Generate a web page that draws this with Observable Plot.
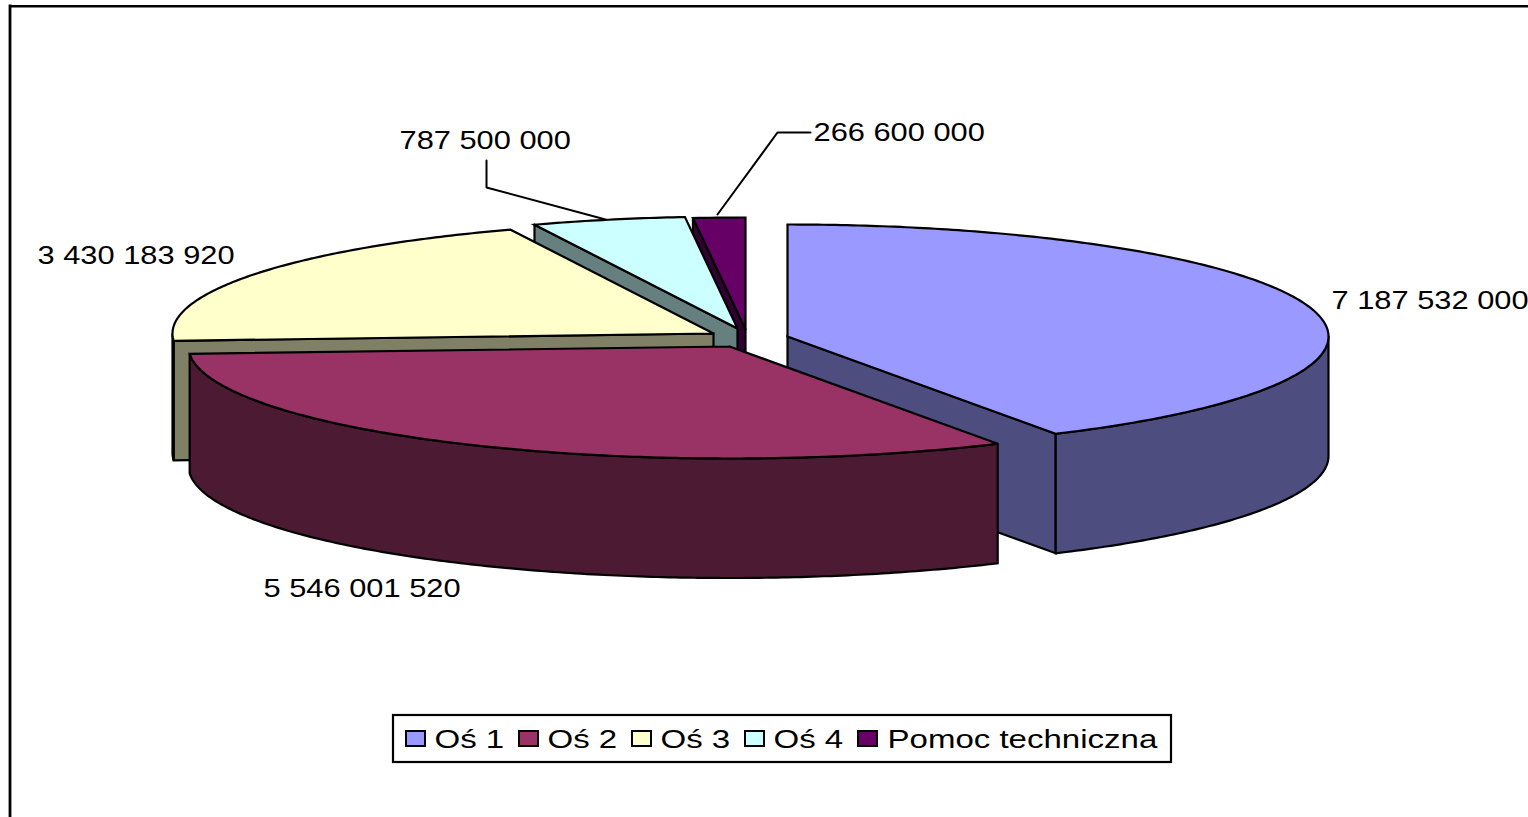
<!DOCTYPE html>
<html lang="pl">
<head>
<meta charset="utf-8">
<title>Oś 1–4 i Pomoc techniczna</title>
<script src="https://cdn.jsdelivr.net/npm/d3@7"></script>
<script src="https://cdn.jsdelivr.net/npm/@observablehq/plot@0.6"></script>
<style>
html,body{margin:0;padding:0;background:#fff;overflow:hidden}
svg{display:block}
</style>
</head>
<body>
<div id="chart"></div>
<script>
// --- data ---
const categories = ["Oś 1", "Oś 2", "Oś 3", "Oś 4", "Pomoc techniczna"];
const values = [7187532000, 5546001520, 3430183920, 787500000, 266600000];
const topColors = ["#9999FF", "#993366", "#FFFFCC", "#CCFFFF", "#660066"];
const sideColors = ["#4D4D80", "#4D1A33", "#808066", "#668080", "#330033"];

// --- layout of the exploded pie ---
const W = 1528, H = 817;
const radiusX = 541, radiusY = 112, depth = 119.5;
const apexX = [787, 729, 713, 737, 745];
const apexY = [336, 346, 333, 328, 329];
const paintOrder = [0, 4, 3, 2, 1];
const labelX = [1331, 263, 37, 399, 813];
const labelBaseline = [308, 596, 263, 148, 140];
const leaderRows = [
  {id: "l3", px: 486, py: 160}, {id: "l3", px: 486, py: 187}, {id: "l3", px: 605, py: 219},
  {id: "l4", px: 717, py: 214}, {id: "l4", px: 777, py: 132}, {id: "l4", px: 810, py: 132}
];
const legendSwatchX = [406, 519, 632, 745, 858];
const legendTextX = [434, 547, 660, 773, 887];
const fontFamily = "Liberation Sans, Arial, sans-serif";
const fontSize = 26, labelStretch = 1.185, legendStretch = 1.27;

// --- pie geometry derived from the values ---
const total = d3.sum(values);
const cum = d3.cumsum(values);
const rad = (i) => (i < 0 ? 0 : (cum[i] / total) * 2 * Math.PI);
const rimPoint = (i, a, dz = 0) => ({
  px: apexX[i] + radiusX * Math.sin(a),
  py: apexY[i] - radiusY * Math.cos(a) + dz
});
const arc = (i, a0, a1, dz = 0) => {
  const n = Math.max(2, Math.ceil(Math.abs(a1 - a0) * 90));
  return d3.range(n + 1).map((k) => rimPoint(i, a0 + ((a1 - a0) * k) / n, dz));
};
const polygons = [];
const addPolygon = (id, fill, pts) => {
  [...pts, pts[0]].forEach((p) => polygons.push({id, fill, px: p.px, py: p.py}));
};
for (const i of paintOrder) {
  const a0 = rad(i - 1), a1 = rad(i);
  const apex = {px: apexX[i], py: apexY[i]};
  const apexLow = {px: apexX[i], py: apexY[i] + depth};
  // cut face on the start edge, visible on the left half
  if (a0 > Math.PI) {
    const p = rimPoint(i, a0), q = rimPoint(i, a0, depth);
    addPolygon(`s${i}`, sideColors[i], [p, apex, apexLow, q]);
  }
  // cut face on the end edge, visible on the right half
  if (a1 < Math.PI) {
    const p = rimPoint(i, a1), q = rimPoint(i, a1, depth);
    addPolygon(`e${i}`, sideColors[i], [p, apex, apexLow, q]);
  }
  // outer wall, the front half of the rim
  const w0 = Math.max(a0, Math.PI / 2), w1 = Math.min(a1, (3 * Math.PI) / 2);
  if (w1 > w0) {
    addPolygon(`w${i}`, sideColors[i], [...arc(i, w0, w1), ...arc(i, w1, w0, depth)]);
  }
  // top
  addPolygon(`t${i}`, topColors[i], [apex, ...arc(i, a0, a1)]);
}

const fmt = (v) => String(v).replace(/\B(?=(\d{3})+$)/g, " ");
const labelRows = values.map((v, i) => ({text: fmt(v), px: labelX[i], py: labelBaseline[i] - 0.32 * fontSize}));
const legendRows = categories.map((c, i) => ({c, fill: topColors[i], sx: legendSwatchX[i], tx: legendTextX[i]}));
const legendBox = {x1: 393, x2: 1171, y1: 715, y2: 762};
const swatch = {w: 19, y1: 731, y2: 746, textY: 738.8};

const chart = Plot.plot({
  width: W, height: H,
  margin: 0,
  x: {domain: [0, W], range: [0, W], axis: null},
  y: {domain: [0, H], range: [0, H], axis: null},
  color: {type: "identity"},
  style: {background: "#fff"},
  marks: [
    // chart-area border: top and left edges only, the rest is cut off by the picture
    Plot.ruleY([5.7], {x1: 9.5, x2: W, stroke: "#000", strokeWidth: 2.6}),
    Plot.ruleX([9.5], {y1: 4.4, y2: H, stroke: "#000", strokeWidth: 2.8}),
    Plot.line(polygons, {
      x: "px", y: "py", z: "id", fill: "fill",
      stroke: "#000", strokeWidth: 2.2, strokeLinejoin: "miter", strokeMiterlimit: 4, curve: "linear"
    }),
    Plot.line(leaderRows, {x: "px", y: "py", z: "id", stroke: "#000", strokeWidth: 2, strokeLinejoin: "miter"}),
    Plot.text(labelRows, {
      x: "px", y: "py", text: "text", textAnchor: "start", fill: "#000",
      fontFamily, fontSize, className: "lab"
    }),
    // legend
    Plot.rect([legendBox], {x1: "x1", x2: "x2", y1: "y1", y2: "y2", fill: "#fff", stroke: "#000", strokeWidth: 2.2}),
    Plot.rect(legendRows, {
      x1: "sx", x2: (d) => d.sx + swatch.w, y1: () => swatch.y1, y2: () => swatch.y2,
      fill: "fill", stroke: "#000", strokeWidth: 2
    }),
    Plot.text(legendRows, {
      x: "tx", y: () => swatch.textY, text: "c", textAnchor: "start", fill: "#000",
      fontFamily, fontSize, className: "leg"
    })
  ]
});
document.getElementById("chart").appendChild(chart);

// the reference's text is stretched horizontally
const stretch = (sel, factor) => {
  chart.querySelectorAll(sel).forEach((t) => {
    t.setAttribute("lengthAdjust", "spacingAndGlyphs");
    t.setAttribute("textLength", t.getComputedTextLength() * factor);
  });
};
stretch(".lab text", labelStretch);
stretch(".leg text", legendStretch);
</script>
</body>
</html>
